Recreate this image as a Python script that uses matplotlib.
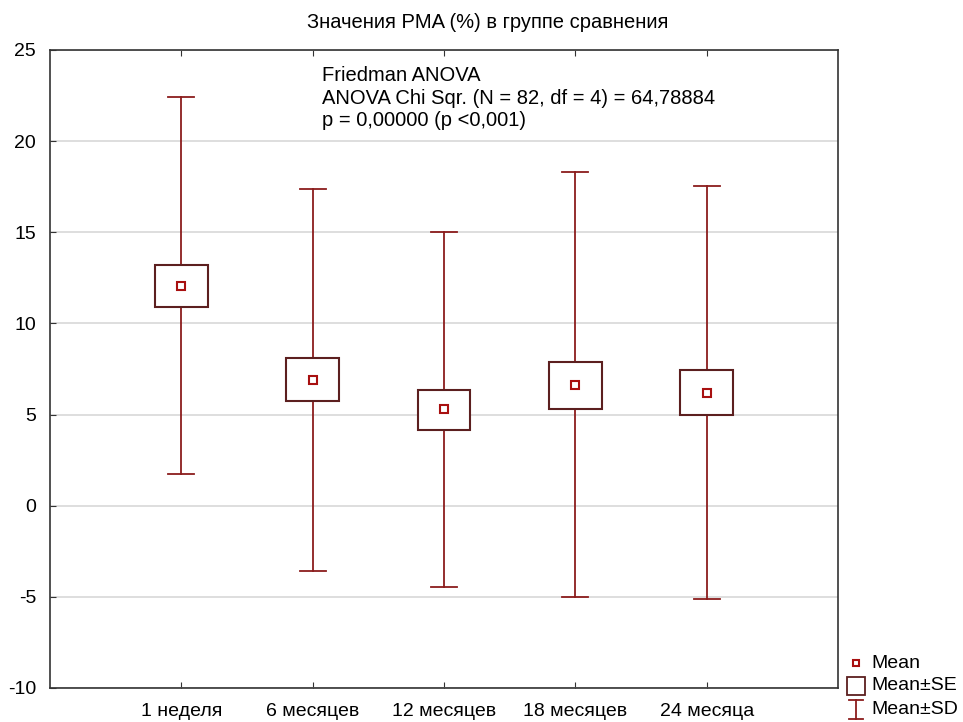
import matplotlib.pyplot as plt
from matplotlib.lines import Line2D
from matplotlib.patches import Rectangle

plt.rcParams['font.family'] = ['Liberation Sans', 'DejaVu Sans']
plt.rcParams['axes.unicode_minus'] = False

categories = ['1 неделя', '6 месяцев', '12 месяцев', '18 месяцев', '24 месяца']
means = [12.05, 6.90, 5.28, 6.60, 6.21]
se_low = [10.90, 5.75, 4.18, 5.31, 4.98]
se_high = [13.20, 8.08, 6.35, 7.89, 7.45]
sd_low = [1.72, -3.56, -4.47, -5.00, -5.10]
sd_high = [22.42, 17.35, 15.02, 18.30, 17.52]

box_col = '#5c1f1f'
sd_col = '#8b1c1c'
mean_col = '#a81010'

fig = plt.figure(figsize=(9.63, 7.22), dpi=100)
ax = fig.add_axes([50 / 963, 1 - 688 / 722, 788 / 963, 638 / 722])

xs = list(range(1, len(categories) + 1))
for x, m, sl, sh, dl, dh in zip(xs, means, se_low, se_high, sd_low, sd_high):
    ax.plot([x, x], [dl, sl], color=sd_col, lw=1.3, zorder=2)
    ax.plot([x, x], [sh, dh], color=sd_col, lw=1.3, zorder=2)
    ax.plot([x - 0.1, x + 0.1], [dl, dl], color=sd_col, lw=1.3, zorder=2)
    ax.plot([x - 0.1, x + 0.1], [dh, dh], color=sd_col, lw=1.3, zorder=2)
    ax.add_patch(Rectangle((x - 0.2, sl), 0.4, sh - sl, facecolor='white',
                           edgecolor=box_col, lw=1.5, zorder=3))
    ax.plot([x], [m], marker='s', ms=6, mfc='white', mec=mean_col, mew=1.5, zorder=4)

ax.set_xlim(0, 6)
ax.set_ylim(-10, 25)
ax.set_yticks(range(-10, 26, 5))
ax.set_xticks(xs)
ax.set_xticklabels(categories)
ax.grid(axis='y', color='#d8d8d8', lw=1.2)
ax.set_axisbelow(True)
ax.tick_params(direction='in', length=4, labelsize=14, top=True, colors='#333333',
               labelcolor='black')
ax.tick_params(axis='x', pad=11)
ax.tick_params(axis='y', pad=10)
for s in ax.spines.values():
    s.set_color('#333333')
    s.set_linewidth(1.2)

fig.text(488 / 963, 1 - 23 / 722, 'Значения PMA (%) в группе сравнения', fontsize=14.5,
         ha='center', va='center')
ax.text((322 - 50) / 788, 0.975,
        'Friedman ANOVA\nANOVA Chi Sqr. (N = 82, df = 4) = 64,78884\np = 0,00000 (p <0,001)',
        transform=ax.transAxes, fontsize=14.5, va='top', ha='left', linespacing=1.25)

# legend outside bottom right
lx = 856 / 963
fig.add_artist(Line2D([lx], [1 - 663 / 722], marker='s', ms=5, mfc='white', mec=mean_col,
                      mew=1.5, transform=fig.transFigure))
fig.add_artist(Line2D([lx], [1 - 686 / 722], marker='s', ms=13, mfc='white', mec=box_col,
                      mew=1.3, transform=fig.transFigure))
y0, y1 = 1 - 700 / 722, 1 - 719 / 722
fig.add_artist(Line2D([lx, lx], [y0, y1], color=sd_col, lw=1.3, transform=fig.transFigure))
fig.add_artist(Line2D([lx - 7 / 963, lx + 7 / 963], [y0, y0], color=sd_col, lw=1.3,
                      transform=fig.transFigure))
fig.add_artist(Line2D([lx - 7 / 963, lx + 7 / 963], [y1, y1], color=sd_col, lw=1.3,
                      transform=fig.transFigure))
for label, yy in [('Mean', 663), ('Mean±SE', 686), ('Mean±SD', 709)]:
    fig.text(871 / 963, 1 - yy / 722, label, fontsize=14, va='center', ha='left')

fig.savefig('out.png', dpi=100)
